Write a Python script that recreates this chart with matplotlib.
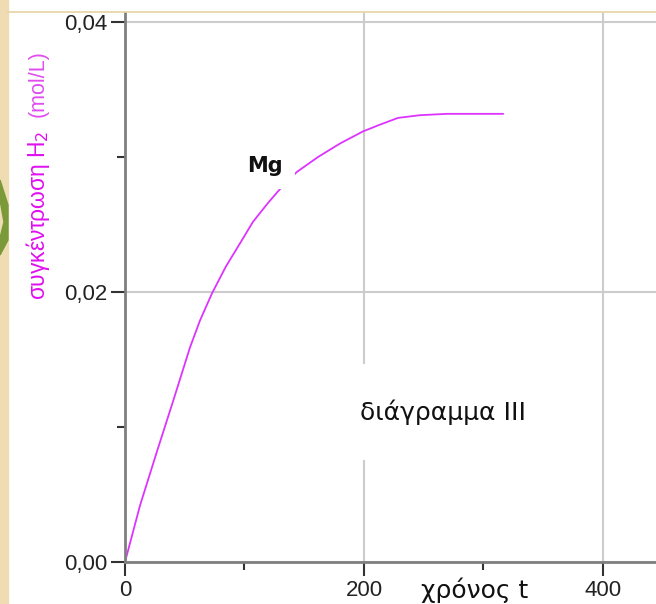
import matplotlib
matplotlib.use("Agg")
import matplotlib.pyplot as plt
from matplotlib.patches import Rectangle, Polygon
from matplotlib.lines import Line2D

# values
time_s = [0, 12.6, 26.8, 40.2, 54.4, 62.8, 72.8, 84.5, 96.2, 107.1, 119.7, 131.4,
          143.9, 161.5, 179.9, 199.2, 213.4, 228.5, 246.9, 269.5, 316.3]
conc_h2 = [0, 0.0042, 0.0082, 0.0119, 0.0159, 0.0179, 0.0199, 0.0219, 0.0236, 0.0252,
           0.0266, 0.0278, 0.0289, 0.0300, 0.0310, 0.0319, 0.0324, 0.0329, 0.0331,
           0.0332, 0.0332]

x_ticks = [0, 200, 400]
x_tick_labels = ["0", "200", "400"]
x_minor = [100, 300]
y_ticks = [0.0, 0.02, 0.04]
y_tick_labels = ["0,00", "0,02", "0,04"]
y_minor = [0.01, 0.03]

W, H = 656, 604
fig = plt.figure(figsize=(W / 100, H / 100), dpi=100)
fig.patch.set_facecolor("white")

# parchment strip on the left and the thin border line on top
fig.patches.append(Rectangle((0, 0), 8 / W, 1, transform=fig.transFigure,
                             color="#efdcb2", zorder=0))
fig.patches.append(Polygon([(0, 1 - 180 / H), (8 / W, 1 - 205 / H),
                            (8 / W, 1 - 240 / H), (0, 1 - 255 / H),
                            (0, 1 - 238 / H), (4 / W, 1 - 222 / H),
                            (0, 1 - 200 / H)],
                           closed=True, transform=fig.transFigure,
                           color="#7a9a3a", zorder=1))
fig.lines.append(Line2D([8 / W, 1], [1 - 12 / H, 1 - 12 / H],
                        transform=fig.transFigure, color="#e6d3a3", lw=1.2))

ax = fig.add_axes([125 / W, 1 - 562 / H, 1 - 125 / W, (562 - 13) / H])
ax.set_xlim(0, 444.4)
ax.set_ylim(0, 0.04067)

ax.plot(time_s, conc_h2, color="#dd33ff", lw=1.3, zorder=3)

for s in ["top", "right"]:
    ax.spines[s].set_visible(False)
for s in ["left", "bottom"]:
    ax.spines[s].set_color("#7f7f7f")
    ax.spines[s].set_linewidth(2)
    ax.spines[s].set_zorder(5)

ax.set_xticks(x_ticks)
ax.set_xticklabels(x_tick_labels)
ax.set_xticks(x_minor, minor=True)
ax.set_yticks(y_ticks)
ax.set_yticklabels(y_tick_labels)
ax.set_yticks(y_minor, minor=True)
ax.tick_params(which="major", length=10, width=1.5, color="#333333",
               labelsize=16, labelcolor="#222222", pad=3)
ax.tick_params(which="minor", length=6, width=1.5, color="#333333")
for lab in ax.get_xticklabels() + ax.get_yticklabels():
    lab.set_family("Liberation Sans")

ax.grid(True, which="major", color="#cccccc", lw=1.5, zorder=1)
ax.set_axisbelow(True)

# y axis label in two parts
fig.text(38 / W, 1 - 300 / H, "συγκέντρωση H$_2$", rotation=90,
         ha="center", va="bottom", color="#e010f0", fontsize=16.5,
         family=["Liberation Sans", "DejaVu Sans"])
fig.text(38 / W, 1 - 117 / H, "(mol/L)", rotation=90,
         ha="center", va="bottom", color="#e04cf0", fontsize=15.5,
         family=["Liberation Sans", "DejaVu Sans"])

fig.text(475 / W, 1 - 590 / H, "χρόνος t", ha="center", va="center",
         fontsize=18, color="#111111")

fig.text(443 / W, 1 - 412 / H, "διάγραμμα III", ha="center", va="center",
         fontsize=18, color="#111111", zorder=6,
         bbox=dict(boxstyle="square,pad=1.4", fc="white", ec="none"))

fig.text(265 / W, 1 - 166 / H, "Mg", ha="center", va="center",
         fontsize=15, fontweight="bold", color="#111111", zorder=6,
         bbox=dict(boxstyle="square,pad=0.6", fc="white", ec="none"))

fig.savefig("out.png", dpi=100)
